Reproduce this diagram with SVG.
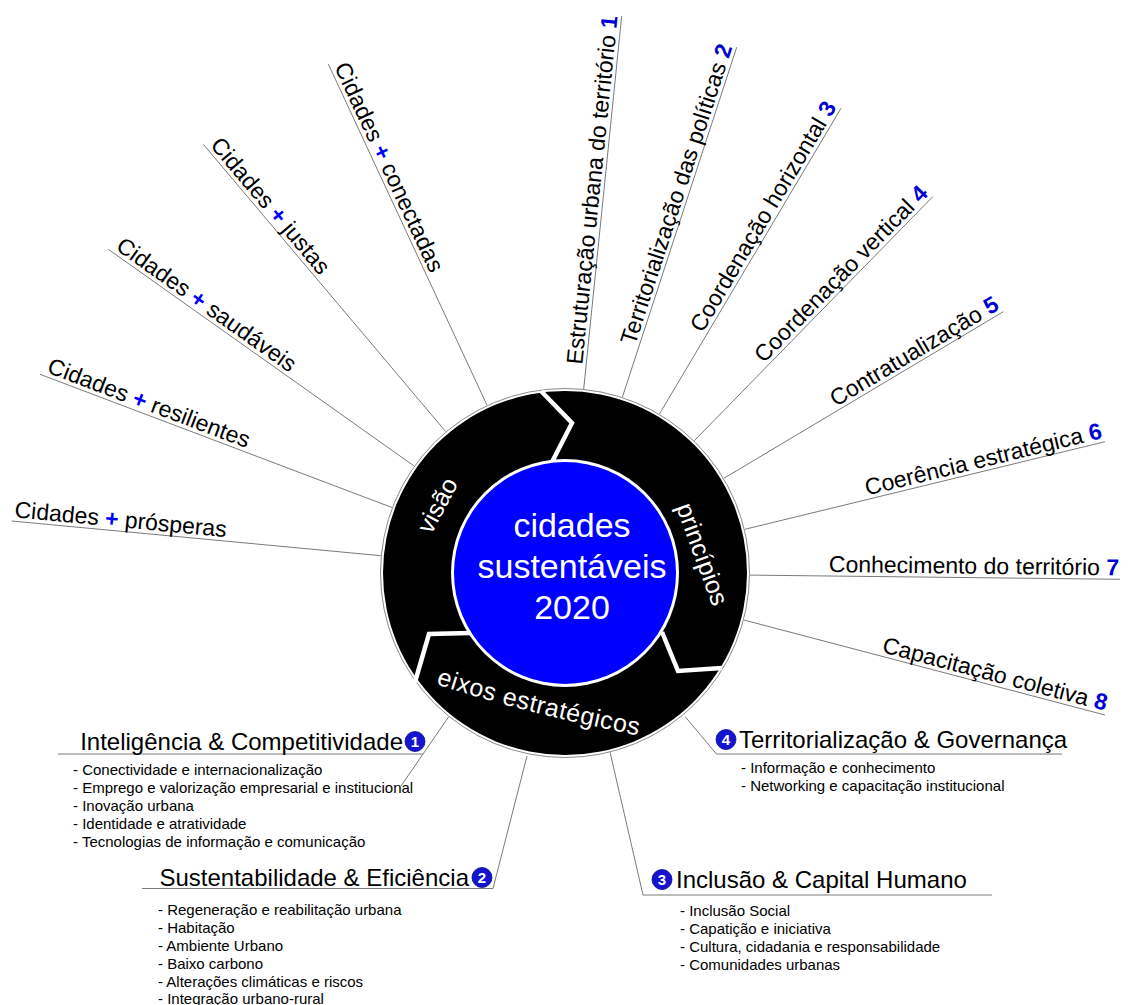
<svg xmlns="http://www.w3.org/2000/svg" width="1129" height="1005" viewBox="0 0 1129 1005">
  <style>
    text { font-family: "Liberation Sans", Arial, sans-serif; }
    .spoke { stroke: #7a7a7a; stroke-width: 1; fill: none; }
    .lbl { font-size: 23px; fill: #000; }
    .num { font-weight: bold; fill: #0000d4; }
    .plus { font-weight: bold; fill: #0000ff; }
    .hdr { font-size: 24px; fill: #000; }
    .item { font-size: 15px; fill: #000; }
    .ring { font-size: 25px; fill: #fff; }
    .core { font-size: 34px; fill: #fff; text-anchor: middle; }
    .sep { stroke: #fff; stroke-width: 4.5; fill: none; stroke-linejoin: miter; }
    .badge { fill: #1414d2; stroke: #0a0a80; stroke-width: 0.8; }
    .badge-t { font-size: 15px; font-weight: bold; fill: #fff; text-anchor: middle; }
  </style>
  <defs>
    <path id="eixosArc" d="M436,684 Q520,712 645,737"/>
  </defs>

  <rect width="1129" height="1005" fill="#fff"/>

  <!-- spokes and axis leaders -->
  <g id="connectors">
    <line class="spoke" x1="380.8" y1="555.7" x2="11.7" y2="521"/>
    <line class="spoke" x1="392.0" y1="507.5" x2="40" y2="374.3"/>
    <line class="spoke" x1="414.1" y1="466.0" x2="108.3" y2="249.3"/>
    <line class="spoke" x1="445.7" y1="431.6" x2="203.3" y2="144.3"/>
    <line class="spoke" x1="487.0" y1="405.2" x2="328.3" y2="64"/>

    <line class="spoke" x1="583.7" y1="389.0" x2="621.7" y2="16"/>
    <line class="spoke" x1="622.4" y1="397.1" x2="736.7" y2="47.3"/>
    <line class="spoke" x1="659.5" y1="413.9" x2="841" y2="108.3"/>
    <line class="spoke" x1="694.3" y1="440.7" x2="932.7" y2="196.7"/>
    <line class="spoke" x1="723.9" y1="478.3" x2="1003.3" y2="311.7"/>
    <line class="spoke" x1="744.8" y1="529.3" x2="1105" y2="441.7"/>
    <line class="spoke" x1="750.0" y1="575.1" x2="1120" y2="579.3"/>
    <line class="spoke" x1="743.9" y1="620.0" x2="1105" y2="715"/>

    <line class="spoke" x1="448.5" y1="717" x2="401" y2="786"/>
    <line class="spoke" x1="58" y1="754" x2="423" y2="754"/>
    <polyline class="spoke" points="142,888.5 493,888.5 527,756"/>
    <polyline class="spoke" points="685,716.5 716.5,754 1062,754"/>
    <polyline class="spoke" points="610,752 643,895 992,895"/>
  </g>

  <!-- central wheel -->
  <g id="wheel">
    <circle cx="565" cy="573" r="184.5" fill="#fff" stroke="#8a8a8a" stroke-width="1"/>
    <circle cx="565" cy="573" r="182" fill="#000"/>
    <polyline class="sep" points="541,391 572,423 552,462"/>
    <polyline class="sep" points="470,633 429,634 415,682"/>
    <polyline class="sep" points="662,632 678,671 722,668"/>
    <circle cx="565" cy="573" r="114" fill="#fff"/>
    <circle cx="565" cy="573" r="111" fill="#0000ff"/>
    <text class="core" x="572" y="537">cidades</text>
    <text class="core" x="572" y="578">sustentáveis</text>
    <text class="core" x="572" y="619">2020</text>
  </g>

  <g id="seg-visao">
    <text class="ring" transform="translate(437,505) rotate(-62)" x="0" y="9" text-anchor="middle">visão</text>
  </g>
  <g id="seg-principios">
    <text class="ring" transform="translate(700,555) rotate(70)" x="0" y="6" text-anchor="middle">princípios</text>
  </g>
  <g id="seg-eixos">
    <text class="ring" letter-spacing="0.5"><textPath href="#eixosArc">eixos estratégicos</textPath></text>
  </g>

  <!-- vision spokes -->
  <g id="visao-1" transform="translate(11.7,521) rotate(5.37)">
    <text class="lbl" x="2" y="-4">Cidades <tspan class="plus">+</tspan> prósperas</text>
  </g>
  <g id="visao-2" transform="translate(40,374.3) rotate(20.73)">
    <text class="lbl" x="5" y="-4">Cidades <tspan class="plus">+</tspan> resilientes</text>
  </g>
  <g id="visao-3" transform="translate(108.3,249.3) rotate(35.33)">
    <text class="lbl" x="5" y="-4">Cidades <tspan class="plus">+</tspan> saudáveis</text>
  </g>
  <g id="visao-4" transform="translate(203.3,144.3) rotate(49.84)">
    <text class="lbl" x="5" y="-4">Cidades <tspan class="plus">+</tspan> justas</text>
  </g>
  <g id="visao-5" transform="translate(328.3,64) rotate(65.06)">
    <text class="lbl" x="5" y="-4">Cidades <tspan class="plus">+</tspan> conectadas</text>
  </g>

  <!-- principle spokes -->
  <g id="principio-1" transform="translate(621.7,16) rotate(-84.19)">
    <text class="lbl" x="-1" y="-4" text-anchor="end">Estruturação urbana do território <tspan class="num">1</tspan></text>
  </g>
  <g id="principio-2" transform="translate(736.7,47.3) rotate(-71.91)">
    <text class="lbl" x="-1" y="-4" text-anchor="end">Territorialização das políticas <tspan class="num">2</tspan></text>
  </g>
  <g id="principio-3" transform="translate(841,108.3) rotate(-59.29)">
    <text class="lbl" x="-1" y="-4" text-anchor="end">Coordenação horizontal <tspan class="num">3</tspan></text>
  </g>
  <g id="principio-4" transform="translate(932.7,196.7) rotate(-45.66)">
    <text class="lbl" x="-1" y="-4" text-anchor="end">Coordenação vertical <tspan class="num">4</tspan></text>
  </g>
  <g id="principio-5" transform="translate(1003.3,311.7) rotate(-30.8)">
    <text class="lbl" x="-1" y="-4" text-anchor="end">Contratualização <tspan class="num">5</tspan></text>
  </g>
  <g id="principio-6" transform="translate(1105,441.7) rotate(-13.67)">
    <text class="lbl" x="-1" y="-4" text-anchor="end">Coerência estratégica <tspan class="num">6</tspan></text>
  </g>
  <g id="principio-7" transform="translate(1120,579.3) rotate(0.65)">
    <text class="lbl" x="-1" y="-4" text-anchor="end">Conhecimento do território <tspan class="num">7</tspan></text>
  </g>
  <g id="principio-8" transform="translate(1105,715) rotate(14.73)">
    <text class="lbl" x="-1" y="-4" text-anchor="end">Capacitação coletiva <tspan class="num">8</tspan></text>
  </g>

  <!-- strategic axes -->
  <g id="eixo-1">
    <text class="hdr" x="403" y="750" text-anchor="end">Inteligência &amp; Competitividade</text>
    <circle class="badge" cx="415" cy="741.5" r="10"/>
    <text class="badge-t" x="415" y="747">1</text>
    <text class="item" x="73" y="775">- Conectividade e internacionalização</text>
    <text class="item" x="73" y="793">- Emprego e valorização empresarial e institucional</text>
    <text class="item" x="73" y="811">- Inovação urbana</text>
    <text class="item" x="73" y="829">- Identidade e atratividade</text>
    <text class="item" x="73" y="847">- Tecnologias de informação e comunicação</text>
  </g>

  <g id="eixo-2">
    <text class="hdr" x="469" y="886" text-anchor="end">Sustentabilidade &amp; Eficiência</text>
    <circle class="badge" cx="482" cy="877.5" r="10"/>
    <text class="badge-t" x="482" y="883">2</text>
    <text class="item" x="158" y="915">- Regeneração e reabilitação urbana</text>
    <text class="item" x="158" y="933">- Habitação</text>
    <text class="item" x="158" y="951">- Ambiente Urbano</text>
    <text class="item" x="158" y="969">- Baixo carbono</text>
    <text class="item" x="158" y="987">- Alterações climáticas e riscos</text>
    <text class="item" x="158" y="1004">- Integração urbano-rural</text>
  </g>

  <g id="eixo-3">
    <circle class="badge" cx="662" cy="879.5" r="10"/>
    <text class="badge-t" x="662" y="885">3</text>
    <text class="hdr" x="676" y="888">Inclusão &amp; Capital Humano</text>
    <text class="item" x="680" y="916">- Inclusão Social</text>
    <text class="item" x="680" y="934">- Capatição e iniciativa</text>
    <text class="item" x="680" y="952">- Cultura, cidadania e responsabilidade</text>
    <text class="item" x="680" y="970">- Comunidades urbanas</text>
  </g>

  <g id="eixo-4">
    <circle class="badge" cx="726" cy="739.5" r="10"/>
    <text class="badge-t" x="726" y="745">4</text>
    <text class="hdr" x="739" y="748">Territorialização &amp; Governança</text>
    <text class="item" x="741" y="773">- Informação e conhecimento</text>
    <text class="item" x="741" y="791">- Networking e capacitação institucional</text>
  </g>
</svg>
